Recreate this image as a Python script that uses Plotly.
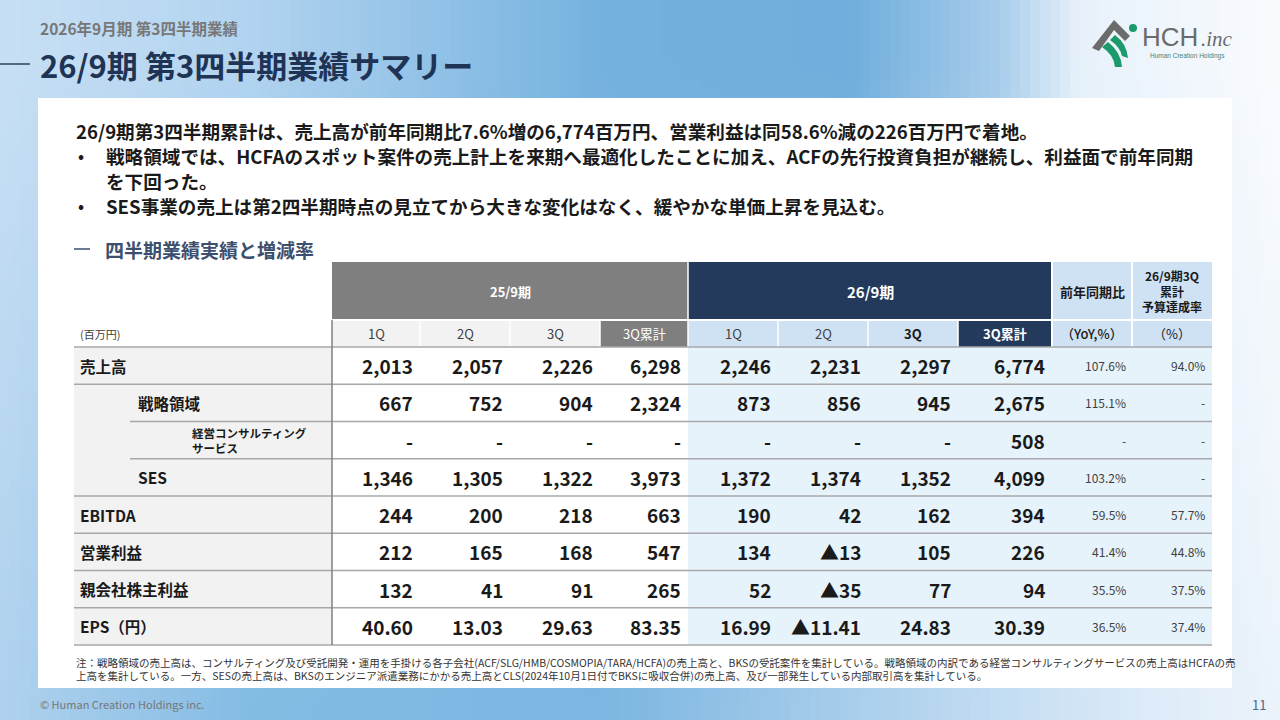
import numpy as np
import plotly.graph_objects as go

# ---------------- data ----------------
row_labels = ["売上高", "戦略領域", "経営コンサルティング<br>サービス", "SES",
              "EBITDA", "営業利益", "親会社株主利益", "EPS（円）"]
row_levels = [0, 1, 2, 1, 0, 0, 0, 0]
period_labels = ["25/9期", "26/9期"]
quarter_labels = ["1Q", "2Q", "3Q", "3Q累計"]
ratio_headers = ["前年同期比", "26/9期3Q<br>累計<br>予算達成率"]
ratio_units = ["（YoY,%）", "（%）"]

fy25_1q = [2013, 667, None, 1346, 244, 212, 132, 40.60]
fy25_2q = [2057, 752, None, 1305, 200, 165, 41, 13.03]
fy25_3q = [2226, 904, None, 1322, 218, 168, 91, 29.63]
fy25_cum = [6298, 2324, None, 3973, 663, 547, 265, 83.35]
fy26_1q = [2246, 873, None, 1372, 190, 134, 52, 16.99]
fy26_2q = [2231, 856, None, 1374, 42, -13, -35, -11.41]
fy26_3q = [2297, 945, None, 1352, 162, 105, 77, 24.83]
fy26_cum = [6774, 2675, 508, 4099, 394, 226, 94, 30.39]
yoy_pct = [107.6, 115.1, None, 103.2, 59.5, 41.4, 35.5, 36.5]
budget_pct = [94.0, None, None, None, 57.7, 44.8, 37.5, 37.4]

eps_row = [False] * 7 + [True]

page_sub = "2026年9月期 第3四半期業績"
page_title = "26/9期 第3四半期業績サマリー"
summary_lines = [
    "26/9期第3四半期累計は、売上高が前年同期比7.6%増の6,774百万円、営業利益は同58.6%減の226百万円で着地。",
    "戦略領域では、HCFAのスポット案件の売上計上を来期へ最適化したことに加え、ACFの先行投資負担が継続し、利益面で前年同期",
    "を下回った。",
    "SES事業の売上は第2四半期時点の見立てから大きな変化はなく、緩やかな単価上昇を見込む。",
]
section_title = "四半期業績実績と増減率"
unit_label = "(百万円)"
notes = [
    "注：戦略領域の売上高は、コンサルティング及び受託開発・運用を手掛ける各子会社(ACF/SLG/HMB/COSMOPIA/TARA/HCFA)の売上高と、BKSの受託案件を集計している。戦略領域の内訳である経営コンサルティングサービスの売上高はHCFAの売",
    "上高を集計している。一方、SESの売上高は、BKSのエンジニア派遣業務にかかる売上高とCLS(2024年10月1日付でBKSに吸収合併)の売上高、及び一部発生している内部取引高を集計している。",
]

# ---------------- styling / geometry ----------------
JP = "Noto Sans CJK JP, Noto Sans, sans-serif"
NAVY = "#243a5c"
GRAY_HDR = "#7f7f7f"
LBLUE_HDR = "#cfe2f4"
LBLUE_DATA = "#e6f3fb"
LINE = "#a8a8a8"

TL = 74
LABEL_R = 332
col_edges = [332, 420, 510, 600, 688, 778, 868, 958, 1052, 1132, 1212]
H1_TOP, H1_BOT, H2_BOT = 262, 320, 347
row_top, row_h = 347, 37.25
n_rows = len(row_labels)

fig = go.Figure()

# background gradient (image trace)
def stops_interp(xs, sx, cols):
    cols = np.array(cols, dtype=float)
    return np.stack([np.interp(xs, sx, cols[:, k]) for k in range(3)], axis=1)

gx = np.arange(128) * 10 + 5
gy = np.arange(72) * 10 + 5
top_c = stops_interp(gx, [0, 250, 600, 850, 1000, 1080, 1280],
                     [(200, 224, 245), (178, 212, 240), (118, 178, 223), (112, 174, 221),
                      (168, 205, 236), (232, 242, 251), (250, 252, 255)])
bot_c = stops_interp(gx, [0, 250, 600, 900, 1150, 1280],
                     [(176, 210, 238), (132, 188, 228), (124, 182, 225), (178, 211, 238),
                      (222, 236, 249), (236, 244, 251)])
t = np.clip((gy - 60) / 640.0, 0, 1)[:, None, None]
img = (top_c[None, :, :] * (1 - t) + bot_c[None, :, :] * t).astype(np.uint8)
fig.add_trace(go.Image(z=img, x0=5, dx=10, y0=5, dy=10, hoverinfo="skip"))

shapes = []
anns = []

def rect(x0, y0, x1, y1, fill, lc=None, lw=0):
    shapes.append(dict(type="rect", xref="x", yref="y", x0=x0, y0=y0, x1=x1, y1=y1,
                       fillcolor=fill, line=dict(color=lc or fill, width=lw), layer="above"))

def hline(x0, x1, y, color, w):
    shapes.append(dict(type="line", xref="x", yref="y", x0=x0, x1=x1, y0=y, y1=y,
                       line=dict(color=color, width=w), layer="above"))

def vline(x, y0, y1, color, w):
    shapes.append(dict(type="line", xref="x", yref="y", x0=x, x1=x, y0=y0, y1=y1,
                       line=dict(color=color, width=w), layer="above"))

def ann(x, y, text, size, color="#1a1a1a", weight=400, xa="left", ya="middle", family=JP, align="left", style="normal"):
    anns.append(dict(x=x, y=y, xref="x", yref="y", text=text, showarrow=False,
                     xanchor=xa, yanchor=ya, align=align,
                     font=dict(family=family, size=size, color=color, weight=weight, style=style)))

# white content panel
rect(38, 98, 1232, 688, "#ffffff")

# page titles
ann(38, 28, page_sub, 15.5, "#777777", 700)
hline(0, 30, 64, "#2b3f60", 1.5)
ann(38, 64, page_title, 31, "#1f3354", 700)

# logo
shapes.append(dict(type="path", xref="x", yref="y",
                   path="M1092,48 L1114,20 L1130,36 L1125,41 L1114,30 L1099,51 Z",
                   fillcolor="#6b6b6b", line=dict(width=0), layer="above"))
shapes.append(dict(type="path", xref="x", yref="y",
                   path="M1102,47 L1108,42 Q1121,52 1122,67 L1115,67 Q1114,55 1102,47 Z",
                   fillcolor="#1d9a6c", line=dict(width=0), layer="above"))
shapes.append(dict(type="path", xref="x", yref="y",
                   path="M1110,40 L1115,35 Q1127,44 1128,58 L1122,56 Q1120,47 1110,40 Z",
                   fillcolor="#1d9a6c", line=dict(width=0), layer="above"))
shapes.append(dict(type="circle", xref="x", yref="y", x0=1129, y0=24, x1=1137, y1=32,
                   fillcolor="#1d9a6c", line=dict(width=0), layer="above"))
ann(1140, 37, "HCH", 26, "#6b6b6b", 400, family="Liberation Sans, Arial, sans-serif")
ann(1199, 39, ".inc", 21, "#6b6b6b", 400, family="Liberation Serif, serif", style="italic")
ann(1148, 56, "Human Creation Holdings", 6.5, "#4f7f6a", 400, family="Liberation Sans, Arial, sans-serif")

# summary text
TXT = 18.6
ann(74, 130, summary_lines[0], TXT, "#1a1a1a", 700)
ann(76, 155, "•", 16, "#1a1a1a", 700)
ann(104, 155, summary_lines[1], TXT, "#1a1a1a", 700)
ann(104, 180, summary_lines[2], TXT, "#1a1a1a", 700)
ann(76, 205, "•", 16, "#1a1a1a", 700)
ann(104, 205, summary_lines[3], TXT, "#1a1a1a", 700)

# section header
hline(74, 90, 249, "#3d4f6e", 1.5)
ann(103, 249, section_title, 19, "#3d4f6e", 700)

# ---------- table header ----------
rect(col_edges[0], H1_TOP, col_edges[4], H1_BOT, GRAY_HDR)
rect(col_edges[4], H1_TOP, col_edges[8], H1_BOT, NAVY)
rect(col_edges[8], H1_TOP, col_edges[9], H1_BOT, LBLUE_HDR)
rect(col_edges[9], H1_TOP, col_edges[10], H1_BOT, LBLUE_HDR)
for i in range(10):
    x0, x1 = col_edges[i], col_edges[i + 1]
    if i < 3:
        fill = "#f2f2f2"
    elif i == 3:
        fill = GRAY_HDR
    elif i < 7:
        fill = LBLUE_HDR
    elif i == 7:
        fill = NAVY
    else:
        fill = LBLUE_HDR
    rect(x0, H1_BOT, x1, H2_BOT, fill)
# white separators
hline(col_edges[0], col_edges[-1], H1_BOT, "#ffffff", 2)
for i in [1, 2, 3, 5, 6, 7]:
    vline(col_edges[i], H1_BOT, H2_BOT, "#ffffff", 1.5)
vline(col_edges[4], H1_TOP, H2_BOT, "#ffffff", 1.5)
vline(col_edges[8], H1_TOP, H2_BOT, "#ffffff", 2)
vline(col_edges[9], H1_TOP, H2_BOT, "#ffffff", 2)

hc = (H1_TOP + H1_BOT) / 2
h2c = (H1_BOT + H2_BOT) / 2
ann((col_edges[0] + col_edges[4]) / 2, hc, period_labels[0], 13, "#ffffff", 700, xa="center")
ann((col_edges[4] + col_edges[8]) / 2, hc, period_labels[1], 15, "#ffffff", 700, xa="center")
ann((col_edges[8] + col_edges[9]) / 2, hc, ratio_headers[0], 13, "#1a1a1a", 700, xa="center", align="center")
ann((col_edges[9] + col_edges[10]) / 2, hc, ratio_headers[1], 12, "#1a1a1a", 700, xa="center", align="center")
for i, q in enumerate(quarter_labels):
    cx = (col_edges[i] + col_edges[i + 1]) / 2
    if i == 3:
        ann(cx, h2c, q, 13, "#ffffff", 400, xa="center")
    else:
        ann(cx, h2c, q, 13, "#404040", 400, xa="center")
    cx2 = (col_edges[i + 4] + col_edges[i + 5]) / 2
    if i == 3:
        ann(cx2, h2c, q, 13, "#ffffff", 700, xa="center")
    elif i == 2:
        ann(cx2, h2c, q, 13, "#1a1a1a", 700, xa="center")
    else:
        ann(cx2, h2c, q, 13, "#404040", 400, xa="center")
ann((col_edges[8] + col_edges[9]) / 2, h2c, ratio_units[0], 13, "#1a1a1a", 500, xa="center")
ann((col_edges[9] + col_edges[10]) / 2, h2c, ratio_units[1], 13, "#1a1a1a", 400, xa="center")
ann(78, h2c, unit_label, 11, "#404040", 400)

# ---------- table body ----------
body_bot = row_top + n_rows * row_h
rect(TL, row_top, LABEL_R, body_bot, "#f2f2f2")
rect(col_edges[0], row_top, col_edges[4], body_bot, "#ffffff")
rect(col_edges[4], row_top, col_edges[-1], body_bot, LBLUE_DATA)
for i in range(n_rows + 1):
    y = row_top + i * row_h
    x0 = 130 if i in (2, 3) else TL
    hline(x0, col_edges[-1], y, LINE, 1.5)
vline(LABEL_R, H1_BOT, body_bot, "#808080", 1.5)

def fmt(v, eps):
    if v is None:
        return "-"
    s = f"{abs(v):,.2f}" if eps else f"{abs(v):,.0f}"
    return ("▲" if v < 0 else "") + s

def fmt_pct(v):
    return "-" if v is None else f"{v:.1f}%"

series = [fy25_1q, fy25_2q, fy25_3q, fy25_cum, fy26_1q, fy26_2q, fy26_3q, fy26_cum]
label_x = [78, 136, 190]
for r in range(n_rows):
    cy = row_top + (r + 0.5) * row_h
    lvl = row_levels[r]
    if lvl == 2:
        ann(label_x[lvl], cy, row_labels[r], 11.5, "#1a1a1a", 700)
    else:
        ann(label_x[lvl], cy, row_labels[r], 15.5, "#1a1a1a", 700)
    for c, s in enumerate(series):
        ann(col_edges[c + 1] - 5, cy, fmt(s[r], eps_row[r]), 19, "#1a1a1a", 700, xa="right")
    ann(col_edges[9] - 4, cy, fmt_pct(yoy_pct[r]), 12, "#404040", 400, xa="right")
    ann(col_edges[10] - 5, cy, fmt_pct(budget_pct[r]), 12, "#404040", 400, xa="right")

# notes
ann(74, 662, notes[0], 10.5, "#333333", 400)
ann(74, 675, notes[1], 10.5, "#333333", 400)

# footer
ann(38, 704, "© Human Creation Holdings inc.", 11, "#777777", 400)
ann(1250, 704, "11", 13, "#4d6b8f", 400)

fig.update_layout(
    width=1280, height=720, margin=dict(l=0, r=0, t=0, b=0),
    paper_bgcolor="#ffffff", plot_bgcolor="#ffffff",
    xaxis=dict(range=[0, 1280], visible=False, fixedrange=True),
    yaxis=dict(range=[720, 0], visible=False, fixedrange=True),
    shapes=shapes, annotations=anns, showlegend=False,
)

fig.write_html("out.html", config={"displayModeBar": False},
               post_script="document.body.style.margin='0';")
